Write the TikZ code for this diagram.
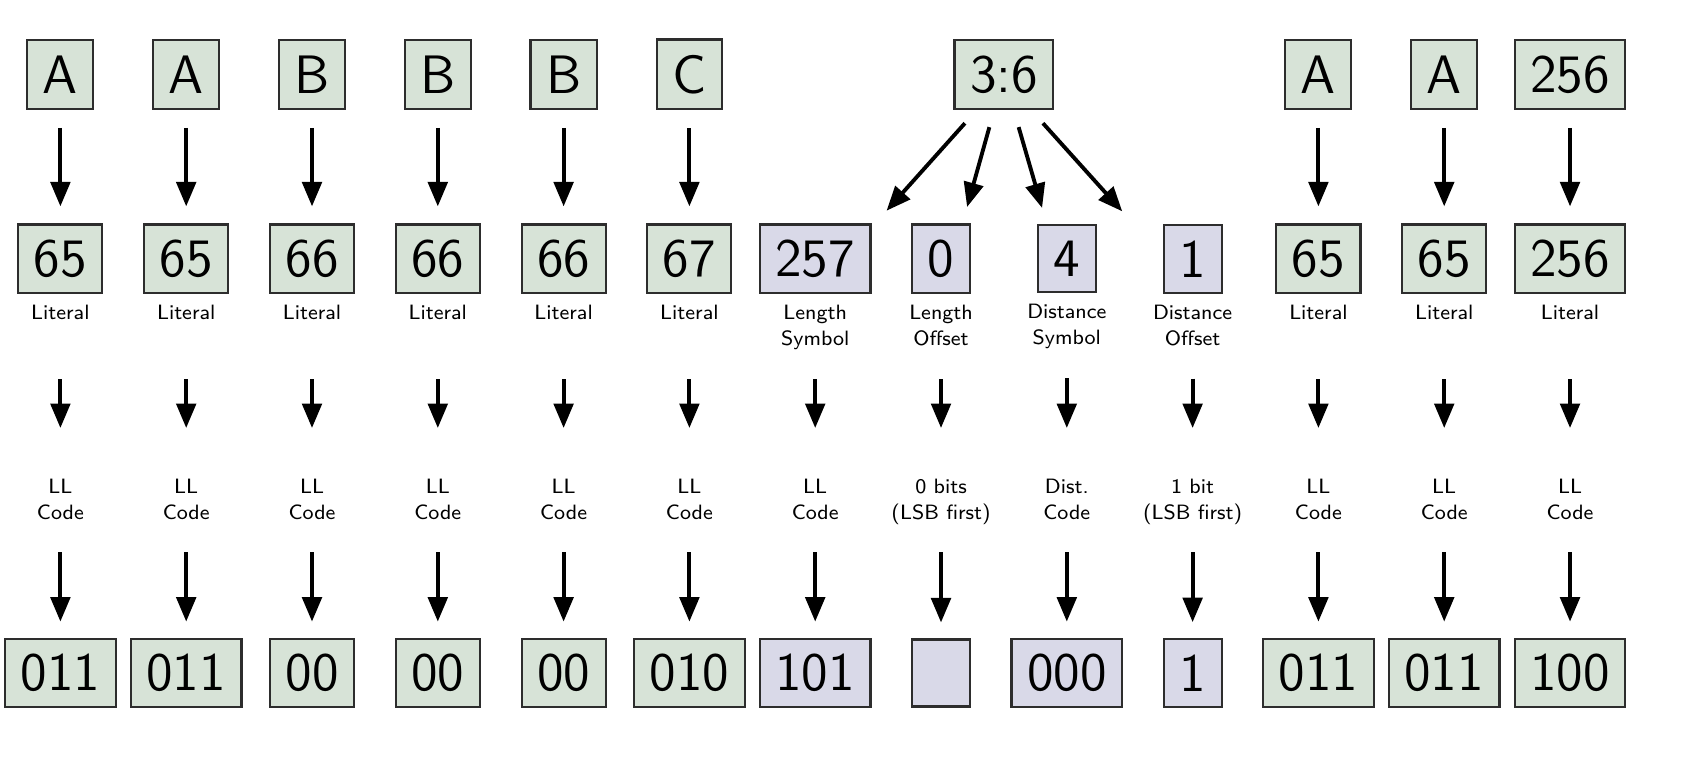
\documentclass[tikz,border=0pt]{standalone}
\usepackage{xcolor}
\usepackage{tikz}
\usetikzlibrary{positioning, arrows.meta, calc}
\definecolor{lz-green}{RGB}{215,227,215}
\definecolor{lz-lilac}{RGB}{217,217,232}
\definecolor{lz-edge}{RGB}{45,45,45}
\tikzset{
  lz@box/.style={
    draw=lz-edge, line width=0.6pt,
    minimum width=5.8mm, minimum height=6.7mm, inner sep=1.55mm,
    font=\sffamily\fontsize{15.4}{18}\selectfont
  },
  lz@kind/.style={
    anchor=north, inner sep=0pt, align=center,
    font=\sffamily\fontsize{5.9}{7.4}\selectfont
  },
  lz@code/.style={lz@kind},
  lz@arr/.style={-{Triangle[length=2.45mm, width=1.95mm]}, line width=1.1pt,
                 shorten <=1.8mm, shorten >=1.7mm},
}
\begin{document}
\begin{tikzpicture}[x=0.1mm, y=-0.1mm]
  \useasboundingbox (0,0) rectangle (1691,775);

  \foreach \v/\k/\c/\b/\s [count=\i] in {
      65/Literal/{LL\\Code}/011/lz-green,
      65/Literal/{LL\\Code}/011/lz-green,
      66/Literal/{LL\\Code}/00/lz-green,
      66/Literal/{LL\\Code}/00/lz-green,
      66/Literal/{LL\\Code}/00/lz-green,
      67/Literal/{LL\\Code}/010/lz-green,
      257/{Length\\Symbol}/{LL\\Code}/101/lz-lilac,
      0/{Length\\Offset}/{0 bits\\(LSB first)}/{}/lz-lilac,
      4/{Distance\\Symbol}/{Dist.\\Code}/000/lz-lilac,
      1/{Distance\\Offset}/{1 bit\\(LSB first)}/1/lz-lilac,
      65/Literal/{LL\\Code}/011/lz-green,
      65/Literal/{LL\\Code}/011/lz-green,
      256/Literal/{LL\\Code}/100/lz-green}
  {
    \node[lz@box, fill=\s] (val\i) at (\i*125.8-65.4, 258.8) {\v};
    \node[lz@kind] (kind\i) at ([yshift=-1.03mm]val\i.south) {\k};
    \node[lz@code] (code\i) at (\i*125.8-65.4, 478) {\c};
    \node[lz@box, fill=\s] (bits\i) at (\i*125.8-65.4, 673) {\b};
    \draw[lz@arr, shorten <=8.5mm, shorten >=5mm] (val\i.south) -- (code\i.north);
    \draw[lz@arr, shorten <=7.4mm, shorten >=1.6mm] (code\i.north) -- (bits\i.north);
  }

  \foreach \i/\t in {1/A, 2/A, 3/B, 4/B, 5/B, 6/C, 11/A, 12/A, 13/256}
  {
    \node[lz@box, fill=lz-green, on grid, above=18.44mm of val\i] (sym\i) {\t};
    \draw[lz@arr] (sym\i) -- (val\i);
  }

  \node[lz@box, fill=lz-green, on grid, above=18.44mm of val8, xshift=6.29mm] (split) {3:6};
  \draw[lz@arr] ($(split.south)+(-27,0)$)  -- ($(val7.north)+(60,0)$);
  \draw[lz@arr] ($(split.south)+(-9.7,0)$) -- ($(val8.north)+(21.5,0)$);
  \draw[lz@arr] ($(split.south)+(9.7,0)$)  -- ($(val9.north)+(-20,0)$);
  \draw[lz@arr] ($(split.south)+(27,0)$)   -- ($(val10.north)+(-59,0)$);
\end{tikzpicture}
\end{document}
